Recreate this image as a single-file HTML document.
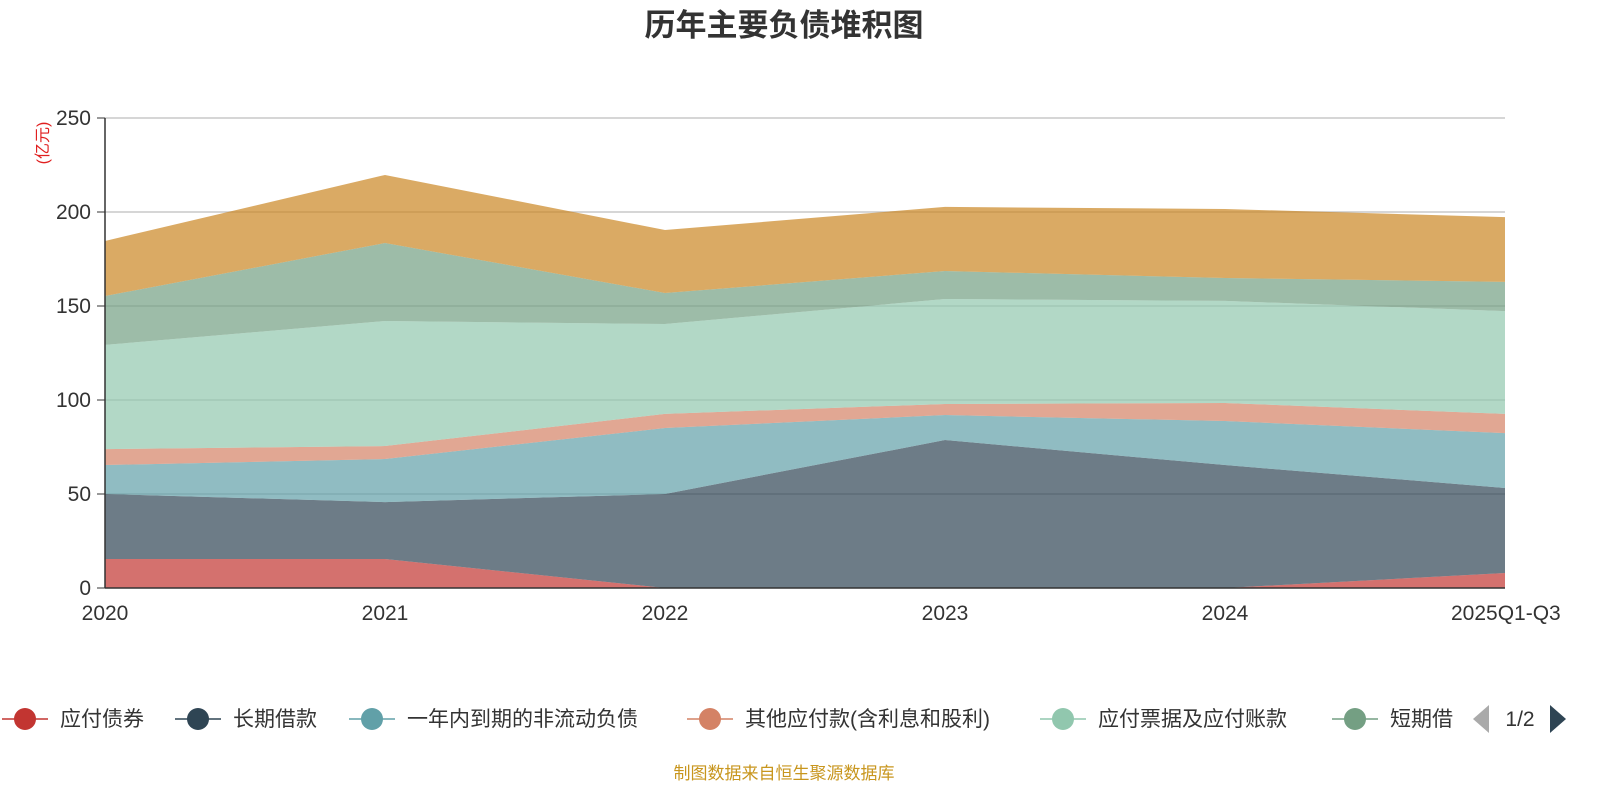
<!DOCTYPE html>
<html><head><meta charset="utf-8"><style>
body{margin:0;width:1600px;height:800px;background:#fff;overflow:hidden;font-family:"Liberation Sans","Noto Sans CJK SC",sans-serif;}
svg{display:block}
</style></head><body>
<svg id="chart" width="1600" height="800">
<text x="784" y="36" text-anchor="middle" font-size="31" font-weight="bold" fill="#333" font-family="Liberation Sans, Noto Sans CJK SC, sans-serif">历年主要负债堆积图</text>
<text transform="translate(48,143) rotate(-90)" text-anchor="middle" font-size="16" fill="#e02020" font-family="Liberation Sans, Noto Sans CJK SC, sans-serif">(亿元)</text>
<g id="grid"></g><g id="areas"></g><g id="axes"></g><g id="legend"></g>
<text x="784" y="779" text-anchor="middle" font-size="17" fill="#c8961e" font-family="Liberation Sans, Noto Sans CJK SC, sans-serif">制图数据来自恒生聚源数据库</text>
</svg>
<script>
const categories=["2020","2021","2022","2023","2024","2025Q1-Q3"];
const seriesNames=["应付债券","长期借款","一年内到期的非流动负债","其他应付款(含利息和股利)","应付票据及应付账款","短期借款","其他负债"];
const s1=[15.4,15.4,0,0,0,8];
const s2=[34.6,30.3,50,78.7,65.4,45.2];
const s3=[15.4,22.9,35.1,13.3,23.4,29.2];
const s4=[8.5,6.9,7.5,5.9,9.6,10.2];
const s5=[55.4,66.5,47.8,55.8,54.3,54.7];
const s6=[26,41.5,16.5,14.9,12.2,15.5];
const s7=[29.3,36.2,33.5,34.1,36.7,34.5];
const yTicks=[0,50,100,150,200,250];
const colors=["#c23531","#2f4554","#61a0a8","#d48265","#91c7ae","#749f83","#ca8622"];
const NS="http://www.w3.org/2000/svg";
const x0=105,xStep=280,yBase=588,yScale=470/250;
const X=i=>x0+i*xStep, Y=v=>yBase-v*yScale;
function mk(t,a,p){const e=document.createElementNS(NS,t);for(const k in a)e.setAttribute(k,a[k]);p.appendChild(e);return e;}
const grid=document.getElementById('grid'),axes=document.getElementById('axes'),areas=document.getElementById('areas'),legend=document.getElementById('legend');
const ff="Liberation Sans, Noto Sans CJK SC, sans-serif";
yTicks.forEach(t=>{
 if(t>0){const l=mk('line',{x1:x0,x2:1505,y1:Y(t),y2:Y(t),stroke:'#c8c8c8','stroke-width':1.5},grid);
 
 }
 const tk=mk('line',{x1:x0-8,x2:x0,y1:Y(t),y2:Y(t),stroke:'#333'},axes);
 
 
 const tx=mk('text',{x:x0-14,y:Y(t)+7,'text-anchor':'end','font-size':21,fill:'#333','font-family':ff},axes);tx.textContent=t;
 
 
});
const all=[s1,s2,s3,s4,s5,s6,s7];let cum=categories.map(()=>0);
all.forEach((s,k)=>{
 const lo=cum.slice();cum=cum.map((c,i)=>c+s[i]);
 let d=cum.map((v,i)=>(i?'L':'M')+X(i)+','+Y(v)).join('');
 for(let i=lo.length-1;i>=0;i--)d+='L'+X(i)+','+Y(lo[i]);
 const p=mk('path',{d:d+'Z',fill:colors[k],'fill-opacity':0.7},areas);
 
 
});
const ya=mk('line',{x1:x0,x2:x0,y1:Y(250),y2:yBase,stroke:'#333','stroke-width':1.5},axes);


const xa=mk('line',{x1:x0,x2:1505,y1:yBase,y2:yBase,stroke:'#333','stroke-width':1.5},axes);


categories.forEach((c,i)=>{
 const tx=mk('text',{x:X(i),y:620,'text-anchor':i==5?'start':'middle','font-size':21,fill:'#333','font-family':ff},axes);
 if(i==5){tx.setAttribute('x',X(i)-54);}
 tx.textContent=c;
 
 
});
const lx=[25,198,372,710,1063,1355];
lx.forEach((cx,k)=>{
 const g=mk('g',{},legend);
 
 
 mk('line',{x1:cx-23,x2:cx+23,y1:719,y2:719,stroke:colors[k],'stroke-width':1.5},g);
 mk('circle',{cx:cx,cy:719,r:11,fill:colors[k]},g);
 const t=mk('text',{x:cx+35,y:726,'font-size':21,fill:'#333','font-family':ff},g);
 t.textContent=k==5?'短期借':seriesNames[k];
});
const pl=mk('path',{d:'M1473,719L1489,705L1489,733Z',fill:'#aaa'},legend);


const pt=mk('text',{x:1520,y:726,'text-anchor':'middle','font-size':21,fill:'#333','font-family':ff},legend);pt.textContent='1/2';


const pn=mk('path',{d:'M1550,705L1566,719L1550,733Z',fill:'#2f4554'},legend);


</script>
</body></html>
